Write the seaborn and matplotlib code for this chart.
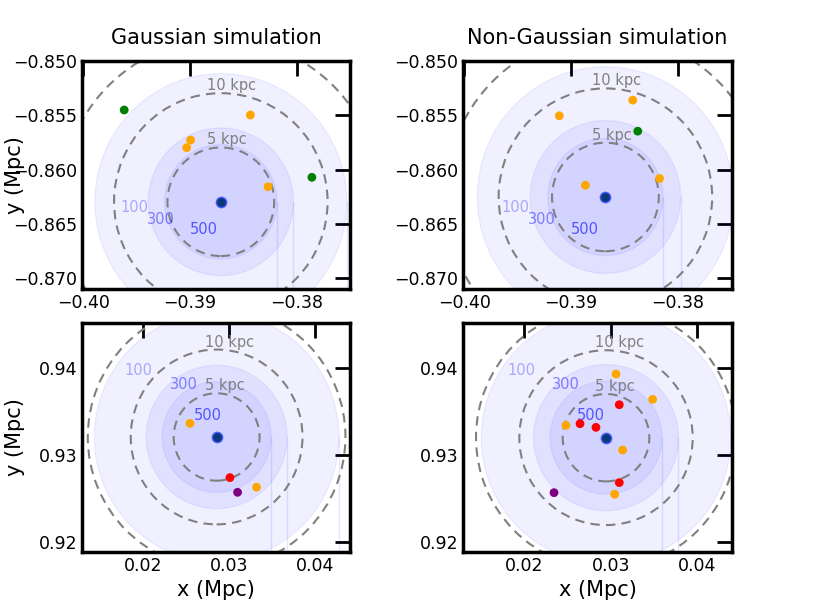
import numpy as np
import pandas as pd
import seaborn as sns
import matplotlib.pyplot as plt
from matplotlib.patches import Circle

# Titulos de las columnas
titles = ['Gaussian simulation', 'Non-Gaussian simulation']

# Centro del halo (Mpc) en cada panel: arriba-izq, arriba-der, abajo-izq, abajo-der
host_x = [-0.3871, -0.38676, 0.02857, 0.02946]
host_y = [-0.86296, -0.86252, 0.93206, 0.93198]

# Radios (Mpc) de los contornos de densidad 100, 300 y 500
levels = [100, 300, 500]
r_100 = [0.0118, 0.0120, 0.01424, 0.0144]
r_300 = [0.0068, 0.00704, 0.0082, 0.00836]
r_500 = [0.00527, 0.0054, 0.00634, 0.00646]

# Anillos en kpc
ring_kpc = [5, 10, 15]

# Satelites
sat_panel = [0, 0, 0, 0, 0, 0,
             1, 1, 1, 1, 1,
             2, 2, 2, 2,
             3, 3, 3, 3, 3, 3, 3, 3, 3, 3]
sat_x = [-0.39615, -0.37857, -0.38433, -0.38993, -0.39030, -0.38268,
         -0.39108, -0.38420, -0.38373, -0.38864, -0.38169,
         0.02547, 0.03012, 0.03101, 0.03322,
         0.03061, 0.03484, 0.03099, 0.02484, 0.02646, 0.02830, 0.03138, 0.03099, 0.03046, 0.02346]
sat_y = [-0.85451, -0.86071, -0.85497, -0.85728, -0.85798, -0.86158,
         -0.85504, -0.85360, -0.85646, -0.86144, -0.86082,
         0.93362, 0.92741, 0.92573, 0.92631,
         0.93926, 0.93636, 0.93575, 0.93339, 0.93358, 0.93316, 0.93057, 0.92684, 0.92551, 0.92569]
sat_kind = ['green', 'green', 'orange', 'orange', 'orange', 'orange',
            'orange', 'orange', 'green', 'orange', 'orange',
            'orange', 'red', 'purple', 'orange',
            'orange', 'orange', 'red', 'orange', 'red', 'red', 'orange', 'red', 'orange', 'purple']

# Ejes y ticks de cada fila
xlims = [(-0.4001, -0.3750), (-0.4001, -0.3749), (0.0129, 0.0441), (0.01296, 0.0440)]
ylims = [(-0.871, -0.850), (-0.871, -0.850), (0.9189, 0.9451), (0.9189, 0.9451)]
xticks = [[-0.40, -0.39, -0.38], [0.02, 0.03, 0.04]]
yticks = [[-0.870, -0.865, -0.860, -0.855, -0.850], [0.92, 0.93, 0.94]]

# Posicion de las etiquetas 100/300/500 respecto al centro (Mpc)
lab_off = [
    [(-0.00805, -0.00053), (-0.00560, -0.00159), (-0.00159, -0.00256)],
    [(-0.00845, -0.00100), (-0.00596, -0.00208), (-0.00192, -0.00304)],
    [(-0.00906, 0.00757), (-0.00378, 0.00603), (-0.00098, 0.00249)],
    [(-0.00978, 0.00765), (-0.00458, 0.00611), (-0.00181, 0.00257)],
]
lab_alpha = [0.3, 0.45, 0.6]

sats = pd.DataFrame({'panel': sat_panel, 'x': sat_x, 'y': sat_y, 'kind': sat_kind})
hosts = pd.DataFrame({'x': host_x, 'y': host_y})
pal = {'green': 'green', 'orange': 'orange', 'red': 'red', 'purple': 'purple'}

sns.set_theme(style='white')
plt.rcParams['font.family'] = ['DejaVu Sans']
plt.rcParams['text.color'] = 'black'
plt.rcParams['axes.labelcolor'] = 'black'

fig = plt.figure(figsize=(8.13, 6.13), dpi=100)
rects = [[0.1009, 0.5285, 0.3296, 0.3719], [0.5695, 0.5285, 0.3309, 0.3719],
         [0.1009, 0.0995, 0.3296, 0.3736], [0.5695, 0.0995, 0.3309, 0.3736]]

for i in range(4):
    ax = fig.add_axes(rects[i])
    cx, cy = host_x[i], host_y[i]
    radios = [r_100[i], r_300[i], r_500[i]]

    # contornos de densidad
    for j in range(3):
        r = radios[j]
        ax.add_patch(Circle((cx, cy), r, color='blue', alpha=0.06, lw=1, zorder=1))
        ax.plot([cx + r, cx + r], [cy, cy - 0.05], color='blue', alpha=0.1, lw=1, zorder=1)
        dx, dy = lab_off[i][j]
        ax.text(cx + dx, cy + dy, str(levels[j]), color='blue', alpha=lab_alpha[j],
                fontsize=10.5, ha='center', va='center', zorder=3)

    # anillos de 5, 10, 15 kpc
    for k in ring_kpc:
        ax.add_patch(Circle((cx, cy), k / 1000, fill=False, ls=(0, (4.5, 3)), lw=1.5,
                            color='gray', zorder=2))
        if k < 15:
            ax.text(cx - 0.0013, cy + k / 1000, '%d kpc' % k, color='gray', fontsize=10.5,
                    ha='left', va='bottom', zorder=3)

    sns.scatterplot(data=sats[sats['panel'] == i], x='x', y='y', hue='kind', palette=pal,
                    s=40, linewidth=0, legend=False, ax=ax, zorder=4)
    sns.scatterplot(data=hosts.iloc[[i]], x='x', y='y', color='#0a3a7a', edgecolor='#4a5aff',
                    linewidth=1, s=55, legend=False, ax=ax, zorder=5)

    row = i // 2
    ax.set_xlim(xlims[i])
    ax.set_ylim(ylims[i])
    ax.set_xticks(xticks[row])
    ax.set_yticks(yticks[row])
    ax.tick_params(direction='in', length=11, width=2, top=True, right=True,
                   labelsize=12.5, colors='black')
    for s in ax.spines.values():
        s.set_linewidth(2.5)
        s.set_color('black')
    ax.set_xlabel('')
    ax.set_ylabel('')
    if row == 0:
        ax.set_title(titles[i % 2], fontsize=15, pad=12, color='black')
    else:
        ax.set_xlabel('x (Mpc)', fontsize=15)
    if i % 2 == 0:
        ax.set_ylabel('y (Mpc)', fontsize=15)
        ax.yaxis.set_label_coords(-0.213, 0.5)

plt.savefig('out.png', dpi=100)
